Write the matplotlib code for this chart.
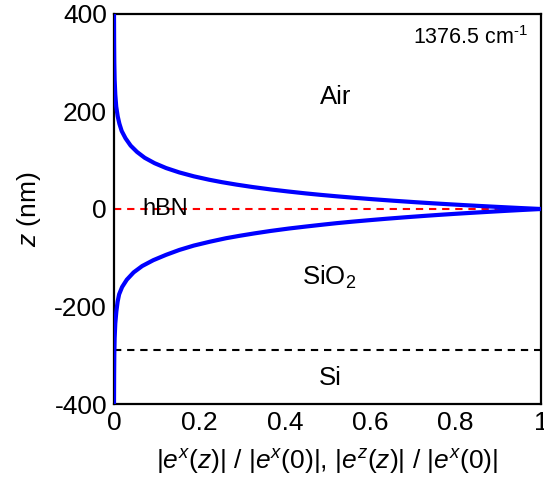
import numpy as np
import matplotlib
matplotlib.use('Agg')
import matplotlib.pyplot as plt

plt.rcParams['font.family'] = ['Liberation Sans', 'DejaVu Sans']
plt.rcParams['mathtext.fontset'] = 'custom'
plt.rcParams['mathtext.rm'] = 'Liberation Sans'
plt.rcParams['mathtext.it'] = 'Liberation Sans:italic'
plt.rcParams['axes.unicode_minus'] = False

# field profile, upper branch (Air side)
z_air = [0, 2, 4, 6, 8, 10, 12, 14, 17, 20, 23, 26, 29, 32, 36, 40, 45, 50, 55,
         60, 67, 75, 84, 94, 105, 117, 130, 145, 160, 175, 190, 210, 235, 265,
         300, 340, 400]
e_air = [1.0, 0.951, 0.905, 0.861, 0.819, 0.779, 0.741, 0.705, 0.654, 0.607,
         0.563, 0.522, 0.484, 0.449, 0.407, 0.368, 0.325, 0.287, 0.253, 0.223,
         0.187, 0.153, 0.122, 0.095, 0.072, 0.054, 0.039, 0.027, 0.018, 0.0126,
         0.0087, 0.0052, 0.003, 0.0015, 0.0007, 0.0003, 0.0]

# lower branch (SiO2 / Si side)
z_sub = [0, -2, -4, -6, -8, -10, -12, -14, -17, -20, -23, -26, -29, -32, -36,
         -40, -45, -50, -55, -60, -67, -75, -84, -94, -105, -117, -130, -145,
         -160, -175, -190, -210, -235, -265, -300, -340, -400]
e_sub = [1.0, 0.955, 0.913, 0.873, 0.834, 0.797, 0.762, 0.729, 0.682, 0.638,
         0.597, 0.558, 0.522, 0.49, 0.449, 0.41, 0.367, 0.329, 0.294, 0.262,
         0.225, 0.187, 0.153, 0.122, 0.092, 0.066, 0.046, 0.030, 0.019, 0.012,
         0.0085, 0.0055, 0.003, 0.0015, 0.0007, 0.0003, 0.0]

z_hbn = 0
z_si = -290

fig = plt.figure(figsize=(5.44, 4.86), dpi=100)
ax = fig.add_axes([114/544., 1-404/486., 427/544., 390/486.])

ax.axhline(z_hbn, color='red', ls=(0, (3.5, 2.8)), lw=1.5, zorder=1)
ax.axhline(z_si, color='black', ls=(0, (3.5, 2.8)), lw=1.5, zorder=1)
ax.plot(e_air, z_air, color='#0000ff', lw=3, zorder=3, solid_capstyle='butt')
ax.plot(e_sub, z_sub, color='#0000ff', lw=3, zorder=3, solid_capstyle='butt')

ax.text(0.518, 230, 'Air', fontsize=18.5, ha='center', va='center')
ax.text(0.505, -141, r'SiO$_2$', fontsize=18.5, ha='center', va='center')
ax.text(0.506, -347, 'Si', fontsize=18.5, ha='center', va='center')
ax.text(0.12, 0, 'hBN', fontsize=17, ha='center', va='center', zorder=2)
ax.text(0.97, 351, r'1376.5 cm$^{\text{-1}}$', fontsize=15.5, ha='right', va='center')

ax.set_xlim(0, 1)
ax.set_ylim(-400, 400)
ax.set_xticks([0, 0.2, 0.4, 0.6, 0.8, 1])
ax.set_xticklabels(['0', '0.2', '0.4', '0.6', '0.8', '1'])
ax.set_yticks([-400, -200, 0, 200, 400])
ax.tick_params(length=0, labelsize=19, pad=5)
for s in ax.spines.values():
	s.set_linewidth(1.6)

ax.set_ylabel(r'$z$ (nm)', fontsize=19, labelpad=8)
ax.set_xlabel(r'$|e^{x}(z)|$ / $|e^{x}(\mathit{0})|$, $|e^{z}(z)|$ / $|e^{x}(0)|$', fontsize=19, labelpad=9)

fig.savefig('out.png', dpi=100)
